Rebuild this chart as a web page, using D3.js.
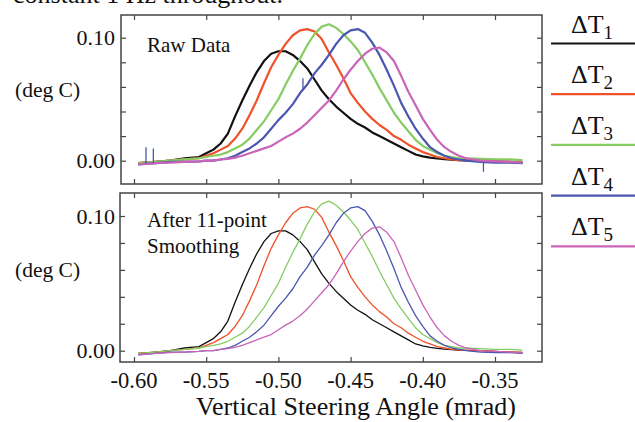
<!DOCTYPE html>
<html>
<head>
<meta charset="utf-8">
<script src="https://cdn.jsdelivr.net/npm/d3@7"></script>
<style>
  body { margin: 0; background: #fff; }
  text { font-family: "Liberation Serif", "Times New Roman", serif; fill: #111; }
</style>
</head>
<body>
<div id="chart"></div>
<script>
// steering angle grid (mrad)
var angle = [-0.597, -0.585, -0.575, -0.565, -0.555,
    -0.55, -0.545, -0.54, -0.535, -0.53, -0.525, -0.52, -0.515, -0.51, -0.505,
    -0.50, -0.495, -0.49, -0.485, -0.48, -0.475, -0.47, -0.465, -0.46, -0.455,
    -0.45, -0.445, -0.44, -0.435, -0.43, -0.425, -0.42, -0.415, -0.41, -0.405,
    -0.40, -0.395, -0.39, -0.385, -0.38, -0.375, -0.37,
    -0.36, -0.35, -0.34, -0.331];

var dT1 = [-0.002, -0.001, 0.000, 0.002, 0.003,
    0.006, 0.009, 0.014, 0.022, 0.036, 0.049, 0.061, 0.072, 0.081, 0.087,
    0.089, 0.089, 0.086, 0.081, 0.075, 0.066, 0.057, 0.050, 0.044, 0.039,
    0.034, 0.030, 0.027, 0.023, 0.020, 0.017, 0.014, 0.011, 0.008, 0.005,
    0.0035, 0.0025, 0.0018, 0.0012, 0.0008, 0.0005, 0.0003,
    0.000, -0.0005, -0.001, -0.0015];
var dT2 = [-0.002, -0.001, 0.000, 0.001, 0.002,
    0.004, 0.006, 0.009, 0.012, 0.018, 0.026, 0.037, 0.049, 0.063, 0.076,
    0.086, 0.095, 0.102, 0.106, 0.107, 0.105, 0.099, 0.088, 0.078, 0.067,
    0.055, 0.047, 0.040, 0.034, 0.029, 0.025, 0.020, 0.017, 0.013, 0.010,
    0.007, 0.005, 0.003, 0.002, 0.001, 0.0005, 0.0003,
    0.000, -0.0005, -0.001, -0.001];
var dT3 = [-0.002, -0.001, 0.000, 0.001, 0.002,
    0.003, 0.004, 0.005, 0.007, 0.010, 0.013, 0.018, 0.025, 0.032, 0.041,
    0.050, 0.062, 0.073, 0.083, 0.094, 0.103, 0.109, 0.111, 0.108, 0.103,
    0.097, 0.090, 0.080, 0.070, 0.059, 0.049, 0.039, 0.031, 0.024, 0.017,
    0.012, 0.009, 0.006, 0.004, 0.003, 0.002, 0.002,
    0.0015, 0.001, 0.001, 0.0005];
var dT4 = [-0.003, -0.002, -0.001, -0.001, -0.0005,
    0.000, 0.000, 0.001, 0.002, 0.004, 0.007, 0.010, 0.014, 0.019, 0.026,
    0.033, 0.039, 0.046, 0.055, 0.062, 0.071, 0.078, 0.086, 0.095, 0.102,
    0.106, 0.107, 0.104, 0.096, 0.086, 0.074, 0.061, 0.047, 0.036, 0.026,
    0.018, 0.011, 0.007, 0.004, 0.002, 0.001, 0.000,
    -0.001, -0.0015, -0.0015, -0.002];
var dT5 = [-0.003, -0.002, -0.0015, -0.001, -0.0005,
    0.000, 0.000, 0.001, 0.0015, 0.0025, 0.004, 0.006, 0.008, 0.010, 0.012,
    0.0155, 0.019, 0.022, 0.026, 0.031, 0.037, 0.043, 0.049, 0.057, 0.066,
    0.074, 0.081, 0.087, 0.091, 0.092, 0.088, 0.081, 0.069, 0.056, 0.045,
    0.034, 0.025, 0.017, 0.011, 0.007, 0.004, 0.002,
    0.000, -0.0005, -0.001, -0.0015];

// spikes visible in the raw panel: series index, angle, peak value
var spikeSeries = [3, 3, 3, 3];
var spikeAngle = [-0.5917, -0.5866, -0.483, -0.358];
var spikeValue = [0.011, 0.010, 0.067, -0.009];

var seriesNames = ["1", "2", "3", "4", "5"];
var seriesColors = ["#111111", "#ef5129", "#86cc62", "#4a56b0", "#c964b8"];
var xTicks = [-0.60, -0.55, -0.50, -0.45, -0.40, -0.35];
var yTicks = [0, 0.02, 0.04, 0.06, 0.08, 0.10];
var yLabels = [0, 0.10];

var w = 635, h = 422;
var allSeries = [dT1, dT2, dT3, dT4, dT5];

var svg = d3.select("#chart").append("svg")
    .attr("width", w).attr("height", h);

// caption remnant from the page above
svg.append("text")
    .attr("x", 13).attr("y", 3)
    .style("font-size", "26px")
    .text("constant 1 Hz throughout.");

var x = d3.scaleLinear().domain([-0.60, -0.35]).range([134, 495]);

var panels = [
    {left: 121, right: 542, top: 15, bottom: 184,
     y: d3.scaleLinear().domain([0, 0.10]).range([160.7, 37.7]),
     raw: true, labelY: 97, notes: ["Raw Data"], noteY: 52},
    {left: 120, right: 542, top: 193, bottom: 362,
     y: d3.scaleLinear().domain([0, 0.10]).range([350.7, 216]),
     raw: false, labelY: 277, notes: ["After 11-point", "Smoothing"], noteY: 227}
];

panels.forEach(function(p) {
    var g = svg.append("g");
    var ph = p.bottom - p.top;

    var line = d3.line()
        .x(function(d, i) { return x(angle[i]); })
        .y(function(d) { return p.y(d); });

    allSeries.forEach(function(s, k) {
        g.append("path")
            .attr("d", line(s))
            .attr("fill", "none")
            .attr("stroke", seriesColors[k])
            .attr("stroke-width", p.raw ? 2.2 : 1.3)
            .attr("stroke-linejoin", "round");
    });

    if (p.raw) {
        spikeAngle.forEach(function(a, j) {
            var s = allSeries[spikeSeries[j]];
            var base = d3.scaleLinear().domain(angle).range(s)(a);
            g.append("line")
                .attr("x1", x(a)).attr("x2", x(a))
                .attr("y1", p.y(base)).attr("y2", p.y(spikeValue[j]))
                .attr("stroke", seriesColors[spikeSeries[j]])
                .attr("stroke-width", 1.3);
        });
    }

    // inward ticks on all four sides
    g.append("g").attr("transform", "translate(0," + p.bottom + ")")
        .call(d3.axisBottom(x).tickValues(xTicks).tickSize(-5).tickFormat(""))
        .call(function(a) { a.select(".domain").remove(); });
    g.append("g").attr("transform", "translate(0," + p.top + ")")
        .call(d3.axisTop(x).tickValues(xTicks).tickSize(-5).tickFormat(""))
        .call(function(a) { a.select(".domain").remove(); });
    g.append("g").attr("transform", "translate(" + p.left + ",0)")
        .call(d3.axisLeft(p.y).tickValues(yTicks).tickSize(-5).tickFormat(""))
        .call(function(a) { a.select(".domain").remove(); });
    g.append("g").attr("transform", "translate(" + p.right + ",0)")
        .call(d3.axisRight(p.y).tickValues(yTicks).tickSize(-5).tickFormat(""))
        .call(function(a) { a.select(".domain").remove(); });
    g.selectAll(".tick line").attr("stroke", "#444").attr("stroke-width", 1.2);

    g.append("rect")
        .attr("x", p.left).attr("y", p.top)
        .attr("width", p.right - p.left).attr("height", ph)
        .attr("fill", "none").attr("stroke", "#444").attr("stroke-width", 1.5);

    yLabels.forEach(function(v) {
        g.append("text")
            .attr("x", 115).attr("y", p.y(v) + 7.5)
            .attr("text-anchor", "end")
            .style("font-size", "22px")
            .text(d3.format(".2f")(v));
    });

    g.append("text")
        .attr("x", 15).attr("y", p.labelY)
        .style("font-size", "21.5px")
        .text("(deg C)");

    p.notes.forEach(function(t, i) {
        g.append("text")
            .attr("x", 147).attr("y", p.noteY + i * 26)
            .style("font-size", "21px")
            .text(t);
    });
});

// x tick labels under the lower panel
svg.selectAll("text.xlab")
    .data(xTicks).enter().append("text")
    .attr("class", "xlab")
    .attr("x", function(d) { return x(d); })
    .attr("y", 388)
    .attr("text-anchor", "middle")
    .style("font-size", "22.5px")
    .text(function(d) { return d3.format(".2f")(d).replace("−", "-"); });

svg.append("text")
    .attr("x", 356).attr("y", 415)
    .attr("text-anchor", "middle")
    .style("font-size", "26px")
    .text("Vertical Steering Angle (mrad)");

// legend
seriesNames.forEach(function(n, i) {
    var ly = 43.5 + i * 50.7;
    var t = svg.append("text")
        .attr("x", 592).attr("y", ly - 11)
        .attr("text-anchor", "middle")
        .style("font-size", "26px");
    t.append("tspan").text("\u0394T");
    t.append("tspan").attr("dy", 6).style("font-size", "19px").text(n);
    svg.append("line")
        .attr("x1", 551).attr("x2", 635)
        .attr("y1", ly).attr("y2", ly)
        .attr("stroke", seriesColors[i])
        .attr("stroke-width", 2.2);
});
</script>
</body>
</html>
